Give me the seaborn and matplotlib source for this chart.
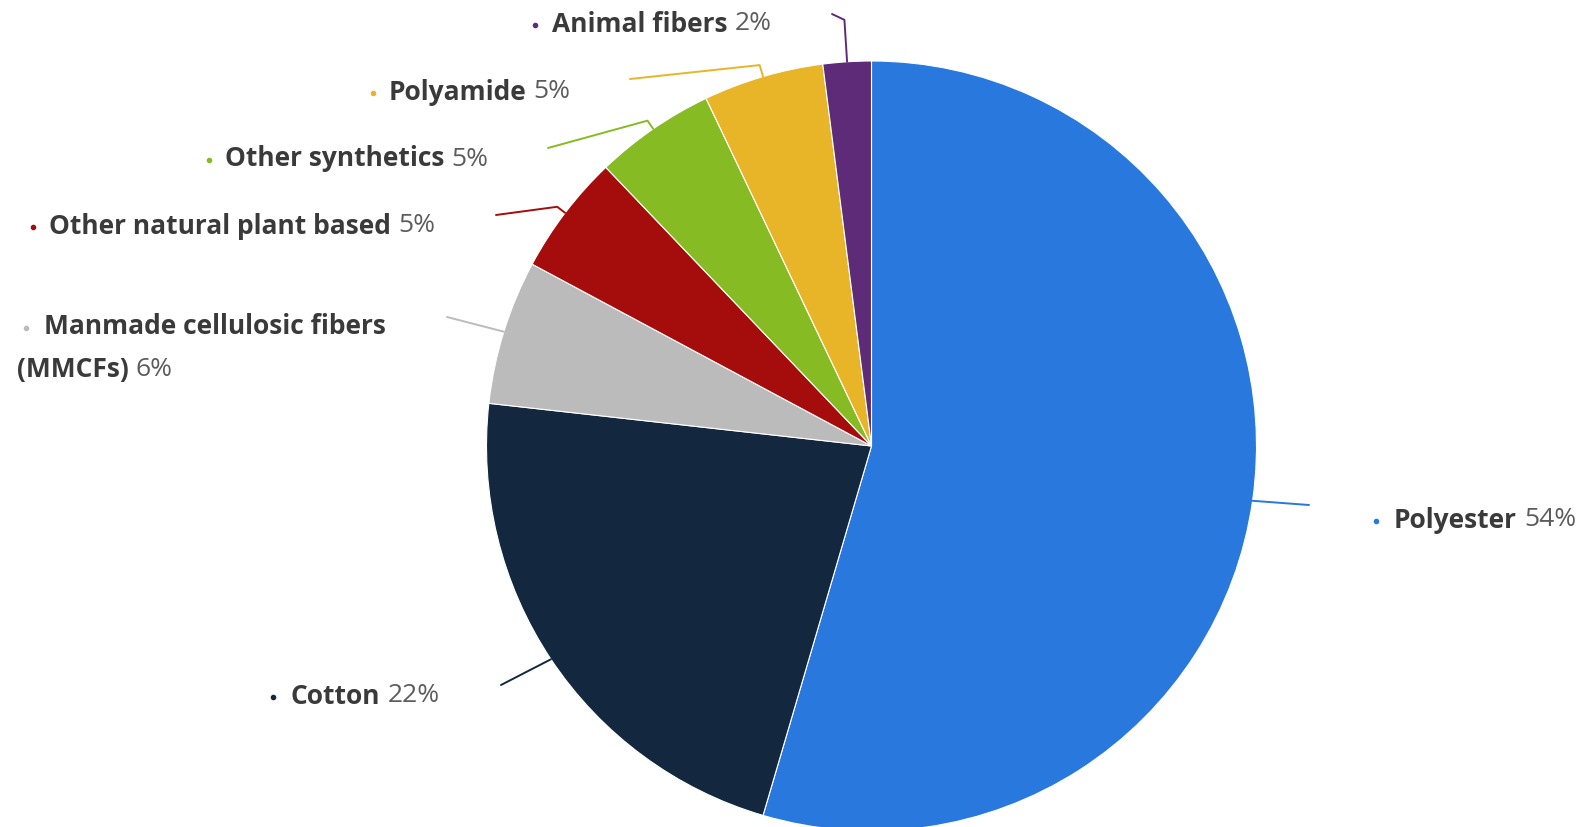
import matplotlib
matplotlib.use("Agg")
import matplotlib.pyplot as plt
import seaborn as sns
import numpy as np

# ---- data ----
categories = ["Polyester", "Cotton", "Manmade cellulosic fibers\n(MMCFs)",
              "Other natural plant based", "Other synthetics", "Polyamide", "Animal fibers"]
shares = [54, 22, 6, 5, 5, 5, 2]
pct_labels = ["54%", "22%", "6%", "5%", "5%", "5%", "2%"]
colors = ["#2878DD", "#13283E", "#BBBBBB", "#A50D0D", "#86BB23", "#E8B428", "#5E2B78"]

# ---- layout (pixel coordinates, y downward) ----
W, H = 1588, 827
center_px = (871.5, 446)
radius_px = 385
label_x = [1394, 291, 44, 49, 225, 389, 552]
label_y = [520, 696, 327, 226, 159, 92, 24]
bullet_x = [1376, 273, 26, 33, 209, 373, 535]
line2_x = [None, None, 17, None, None, None, None]
elbow_ext = [0, 0, 0, 10, 10, 12, 42]
conn_end = [(1309, 505), (501, 685), (447, 317), (496, 215), (548, 148), (630, 79), (832, 14)]

sns.set_theme(style="white")
plt.rcParams['font.family'] = ['Open Sans', 'DejaVu Sans']

fig = plt.figure(figsize=(W / 100, H / 100), dpi=100)
ax = fig.add_axes([0, 0, 1, 1])

def Y(y):
    return H - y

wedges, _ = ax.pie(shares, colors=colors, startangle=90, counterclock=False,
                   center=(center_px[0], Y(center_px[1])), radius=radius_px,
                   wedgeprops=dict(edgecolor="white", linewidth=0.8))
ax.set_xlim(0, W)
ax.set_ylim(0, H)
ax.set_aspect("equal", adjustable="box")
ax.axis("off")

cx, cy = center_px[0], Y(center_px[1])
fs = 19
for i, w in enumerate(wedges):
    mid = np.deg2rad((w.theta1 + w.theta2) / 2)
    p0 = (cx + radius_px * np.cos(mid), cy + radius_px * np.sin(mid))
    r1 = radius_px + elbow_ext[i]
    p1 = (cx + r1 * np.cos(mid), cy + r1 * np.sin(mid))
    ex, ey = conn_end[i]
    ax.plot([p0[0], p1[0], ex], [p0[1], p1[1], Y(ey)], color=colors[i], lw=1.4,
            solid_capstyle="round", solid_joinstyle="round")

    lines = categories[i].split("\n")
    ax.plot(bullet_x[i], Y(label_y[i]) - 1, marker="o", markersize=3.0, color=colors[i])
    t = ax.text(label_x[i], Y(label_y[i]), lines[0], fontsize=fs, fontweight="bold",
                color="#3a3a3a", va="center", ha="left")
    last = t
    for k, ln in enumerate(lines[1:], start=1):
        last = ax.text(line2_x[i], Y(label_y[i]) - 43 * k, ln, fontsize=fs, fontweight="bold",
                       color="#3a3a3a", va="center", ha="left")
    ax.annotate(pct_labels[i], xy=(1, 0.5), xycoords=last, xytext=(5, 0),
                textcoords="offset points", fontsize=fs, color="#5c5c5c",
                va="center", ha="left")

fig.savefig("out.png", dpi=100, facecolor="white")
